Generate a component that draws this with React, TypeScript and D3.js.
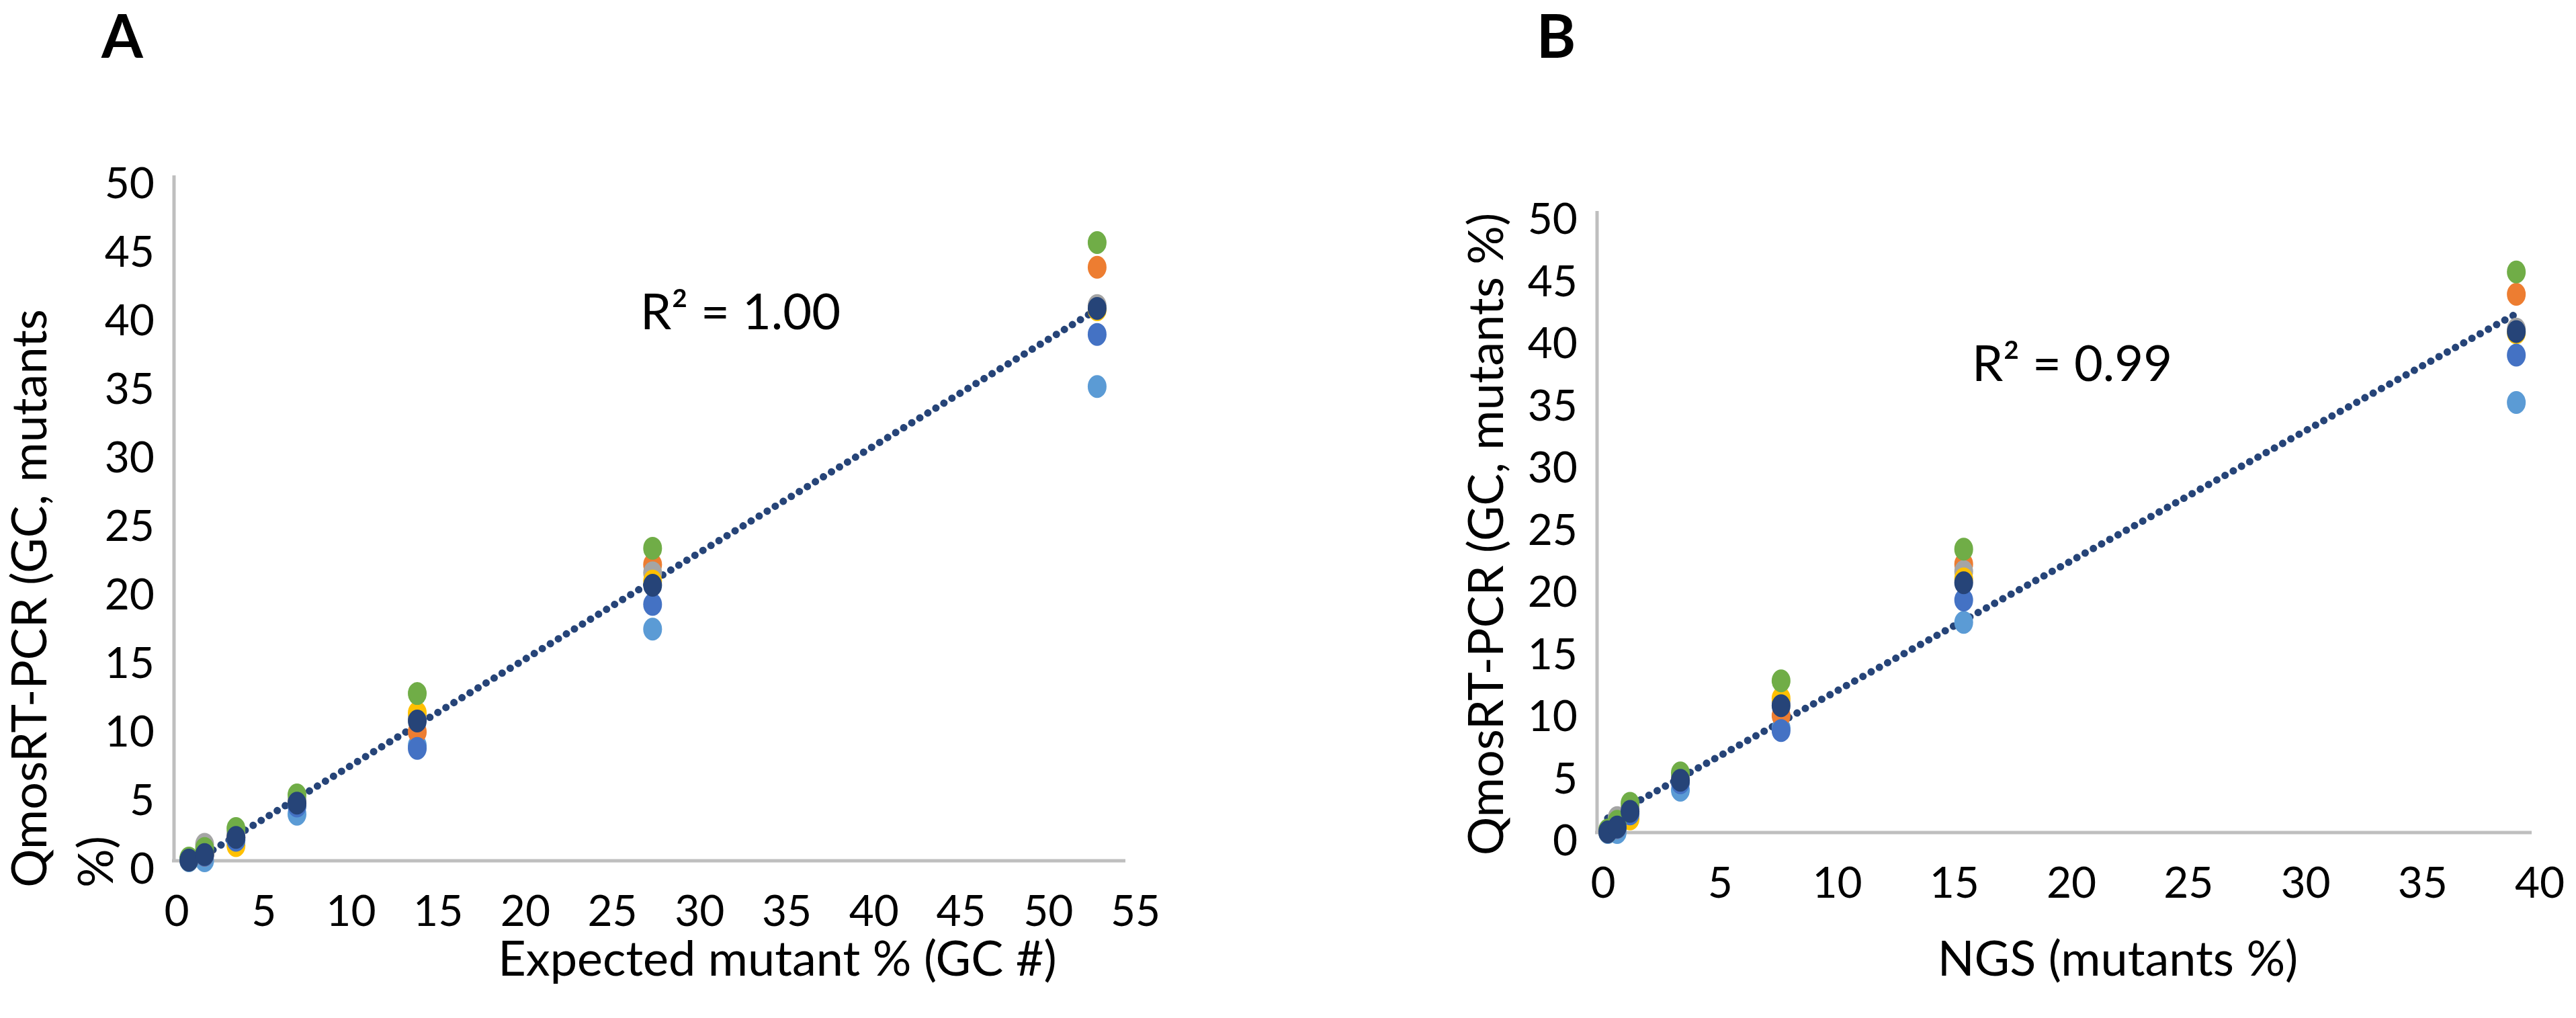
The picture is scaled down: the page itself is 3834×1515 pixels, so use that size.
import React from 'react';
import * as d3 from 'd3';

// Excel default series palette, in series order (series 7 is drawn on top)
const seriesColors = ['#5B9BD5', '#ED7D31', '#A5A5A5', '#FFC000', '#4472C4', '#70AD47', '#264478'];

// x values per dilution point
const expectedPct = [0.7, 1.6, 3.4, 6.9, 13.8, 27.3, 52.8];
const ngsPct = [0.2, 0.6, 1.15, 3.3, 7.6, 15.4, 39.0];

// QmosRT-PCR (GC, mutants %) per series
const series1 = [0.0, 0.0, 1.6, 3.4, 8.4, 16.9, 34.6];
const series2 = [0.1, 0.4, 1.7, 4.2, 9.4, 21.6, 43.3];
const series3 = [0.1, 1.2, 2.0, 4.4, 10.5, 21.0, 40.5];
const series4 = [0.05, 0.5, 1.1, 4.1, 10.8, 20.4, 40.2];
const series5 = [0.05, 0.4, 1.5, 4.0, 8.2, 18.7, 38.4];
const series6 = [0.2, 0.9, 2.35, 4.8, 12.2, 22.8, 45.1];
const series7 = [0.05, 0.45, 1.7, 4.2, 10.2, 20.1, 40.3];
const qmosSeries = [series1, series2, series3, series4, series5, series6, series7];

const yTicks = [0, 5, 10, 15, 20, 25, 30, 35, 40, 45, 50];
const xTicksA = [0, 5, 10, 15, 20, 25, 30, 35, 40, 45, 50, 55];
const xTicksB = [0, 5, 10, 15, 20, 25, 30, 35, 40];

const FONT = 'Lato, Calibri, sans-serif';
const AXIS_GRAY = '#BFBFBF';

function fitLine(xs: number[], ys: number[]) {
  const mx = d3.mean(xs) as number;
  const my = d3.mean(ys) as number;
  let sxy = 0, sxx = 0;
  xs.forEach((x, i) => { sxy += (x - mx) * (ys[i] - my); sxx += (x - mx) * (x - mx); });
  const slope = sxy / sxx;
  return { slope, intercept: my - slope * mx };
}

interface PanelProps {
  id: string;
  letter: string;
  letterX: number;
  xVals: number[];
  x: d3.ScaleLinear<number, number>;
  y: d3.ScaleLinear<number, number>;
  xTicks: number[];
  axisStart: number;
  axisEnd: number;
  xTitle: string;
  xTitleX: number;
  yTitleLines: string[];
  yTitleX: number;
  yTitleY: number;
  yTitleAnchor: 'start' | 'middle';
  r2: string;
  r2X: number;
  r2Y: number;
}

function Panel(p: PanelProps) {
  const { x, y, xVals } = p;
  const y0 = y(0);
  const yTop = y(50);

  // linear trendline over all points
  const allX: number[] = [];
  const allY: number[] = [];
  qmosSeries.forEach(s => s.forEach((v, i) => { allX.push(xVals[i]); allY.push(v); }));
  const { slope, intercept } = fitLine(allX, allY);
  const xMin = d3.min(allX) as number;
  const xMax = d3.max(allX) as number;
  const trend = d3.line<number>().x(d => x(d)).y(d => y(intercept + slope * d))([xMin, xMax]) || '';

  return (
    <g>
      <defs>
        <clipPath id={`clip-${p.id}`}>
          <rect x={p.axisStart} y={yTop} width={p.axisEnd - p.axisStart} height={y0 - yTop} />
        </clipPath>
      </defs>

      <text x={p.letterX} y={86} textAnchor="middle" fontFamily={FONT} fontWeight={700} fontSize={89}>
        {p.letter}
      </text>

      {/* axes */}
      <line x1={p.axisStart} x2={p.axisStart} y1={yTop} y2={y0} stroke={AXIS_GRAY} strokeWidth={5} />
      <line x1={p.axisStart - 3} x2={p.axisEnd} y1={y0} y2={y0} stroke={AXIS_GRAY} strokeWidth={5} />

      {yTicks.map(t => (
        <text key={`y${t}`} x={p.axisStart - 29} y={y(t) + 34} textAnchor="end"
          fontFamily={FONT} fontSize={64} fill="#000">{t}</text>
      ))}
      {p.xTicks.map(t => (
        <text key={`x${t}`} x={x(t)} y={y0 + 97} textAnchor="middle"
          fontFamily={FONT} fontSize={64} fill="#000">{t}</text>
      ))}

      {/* trendline */}
      <path d={trend} clipPath={`url(#clip-${p.id})`} fill="none" stroke="#264478"
        strokeWidth={11} strokeLinecap="round" strokeDasharray="0.01 14" />

      {/* markers */}
      {qmosSeries.map((s, si) => (
        <g key={si} fill={seriesColors[si]}>
          {s.map((v, i) => (
            <ellipse key={i} cx={x(xVals[i])} cy={y(v)} rx={14} ry={17} />
          ))}
        </g>
      ))}

      <text x={p.r2X} y={p.r2Y} fontFamily={FONT} fontSize={74} fill="#000">{p.r2}</text>

      <text x={p.xTitleX} y={1452} textAnchor="middle" fontFamily={FONT} fontSize={72} fill="#000">
        {p.xTitle}
      </text>

      {p.yTitleLines.map((line, i) => (
        <text key={i} transform={`translate(${p.yTitleX + i * 99},${p.yTitleY}) rotate(-90)`}
          textAnchor={p.yTitleAnchor} fontFamily={FONT} fontSize={72} fill="#000">{line}</text>
      ))}
    </g>
  );
}

export default function App() {
  const width = 3834;
  const height = 1515;

  const xA = d3.scaleLinear().domain([0, 55]).range([263, 1690]);
  const yA = d3.scaleLinear().domain([0, 50]).range([1281, 261]);
  const xB = d3.scaleLinear().domain([0, 40]).range([2386, 3780]);
  const yB = d3.scaleLinear().domain([0, 50]).range([1239, 314]);

  return (
    <svg width={width} height={height} viewBox={`0 0 ${width} ${height}`}
      style={{ position: 'absolute', left: 0, top: 0, background: '#fff' }}>
      <rect width={width} height={height} fill="#fff" />
      <Panel id="a" letter="A" letterX={182} xVals={expectedPct} x={xA} y={yA} xTicks={xTicksA}
        axisStart={259} axisEnd={1675}
        xTitle="Expected mutant % (GC #)" xTitleX={1157}
        yTitleLines={['QmosRT-PCR (GC, mutants', '%)']} yTitleX={69} yTitleY={1321} yTitleAnchor="start"
        r2="R² = 1.00" r2X={953} r2Y={490} />
      <Panel id="b" letter="B" letterX={2316} xVals={ngsPct} x={xB} y={yB} xTicks={xTicksB}
        axisStart={2377} axisEnd={3768}
        xTitle="NGS (mutants %)" xTitleX={3152}
        yTitleLines={['QmosRT-PCR (GC, mutants %)']} yTitleX={2237} yTitleY={795} yTitleAnchor="middle"
        r2="R² = 0.99" r2X={2935} r2Y={567} />
    </svg>
  );
}
